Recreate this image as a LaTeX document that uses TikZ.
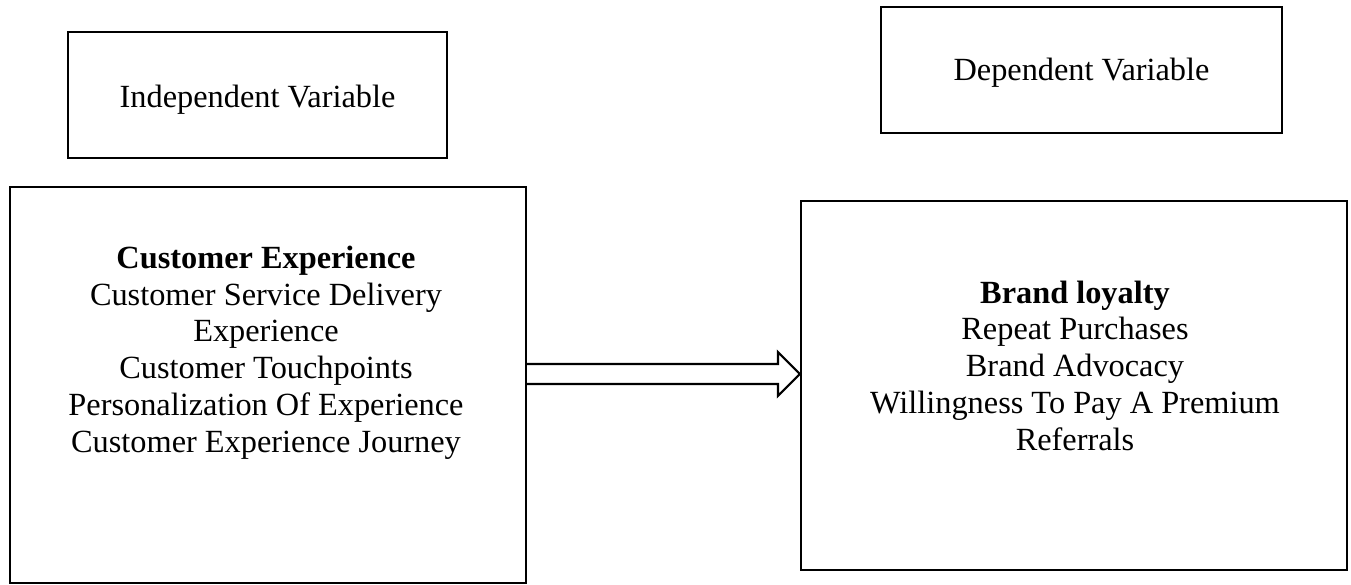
\documentclass[tikz,border=0pt]{standalone}
\usepackage{fontspec}
\setmainfont{Liberation Serif}
\usetikzlibrary{calc,positioning}

\begin{document}
\begin{tikzpicture}[scale=1.0,line cap=round,
    box/.style={draw=black,line width=1.2pt,inner sep=0pt},
    txt/.style={inner sep=0pt,align=center,font=\fontsize{18.4}{20.9}\selectfont},
    fatarrow/.style={draw=black,line width=1.2pt,line join=miter}]
  \useasboundingbox (0,0) rectangle (27.02,11.68);
  % header boxes
  \node[box,minimum width=7.58cm,minimum height=2.52cm] (indep) at (5.15,9.78) {};
  \node[txt,anchor=base] (indeplbl) at (5.15,9.52) {Independent Variable};
  \node[box,minimum width=8.02cm,minimum height=2.52cm] (dep) at (21.63,10.28) {};
  \node[txt,anchor=base] (deplbl) at (21.63,10.06) {Dependent Variable};
  % main boxes
  \node[box,minimum width=10.32cm,minimum height=7.92cm] (cexp) at (5.36,3.98) {};
  \node[txt] (cexplbl) at (5.32,4.63)
    {\textbf{Customer Experience}\\Customer Service Delivery\\Experience\\
     Customer Touchpoints\\Personalization Of Experience\\Customer Experience Journey};
  \node[box,minimum width=10.92cm,minimum height=7.38cm] (bloy) at (21.48,3.97) {};
  \node[txt] (bloylbl) at (21.5,4.37)
    {\textbf{Brand loyalty}\\Repeat Purchases\\Brand Advocacy\\
     Willingness To Pay A Premium\\Referrals};
  % hollow arrow
  \coordinate (tail) at (cexp.east |- 0,4.2);
  \coordinate (tip) at (bloy.west |- 0,4.2);
  \draw[fatarrow] ($(tail)+(0,0.2)$) -- ($(tip)+(-0.44,0.2)$) -- ($(tip)+(-0.44,0.44)$)
    -- (tip) -- ($(tip)+(-0.44,-0.44)$) -- ($(tip)+(-0.44,-0.2)$) -- ($(tail)+(0,-0.2)$);
\end{tikzpicture}
\end{document}
